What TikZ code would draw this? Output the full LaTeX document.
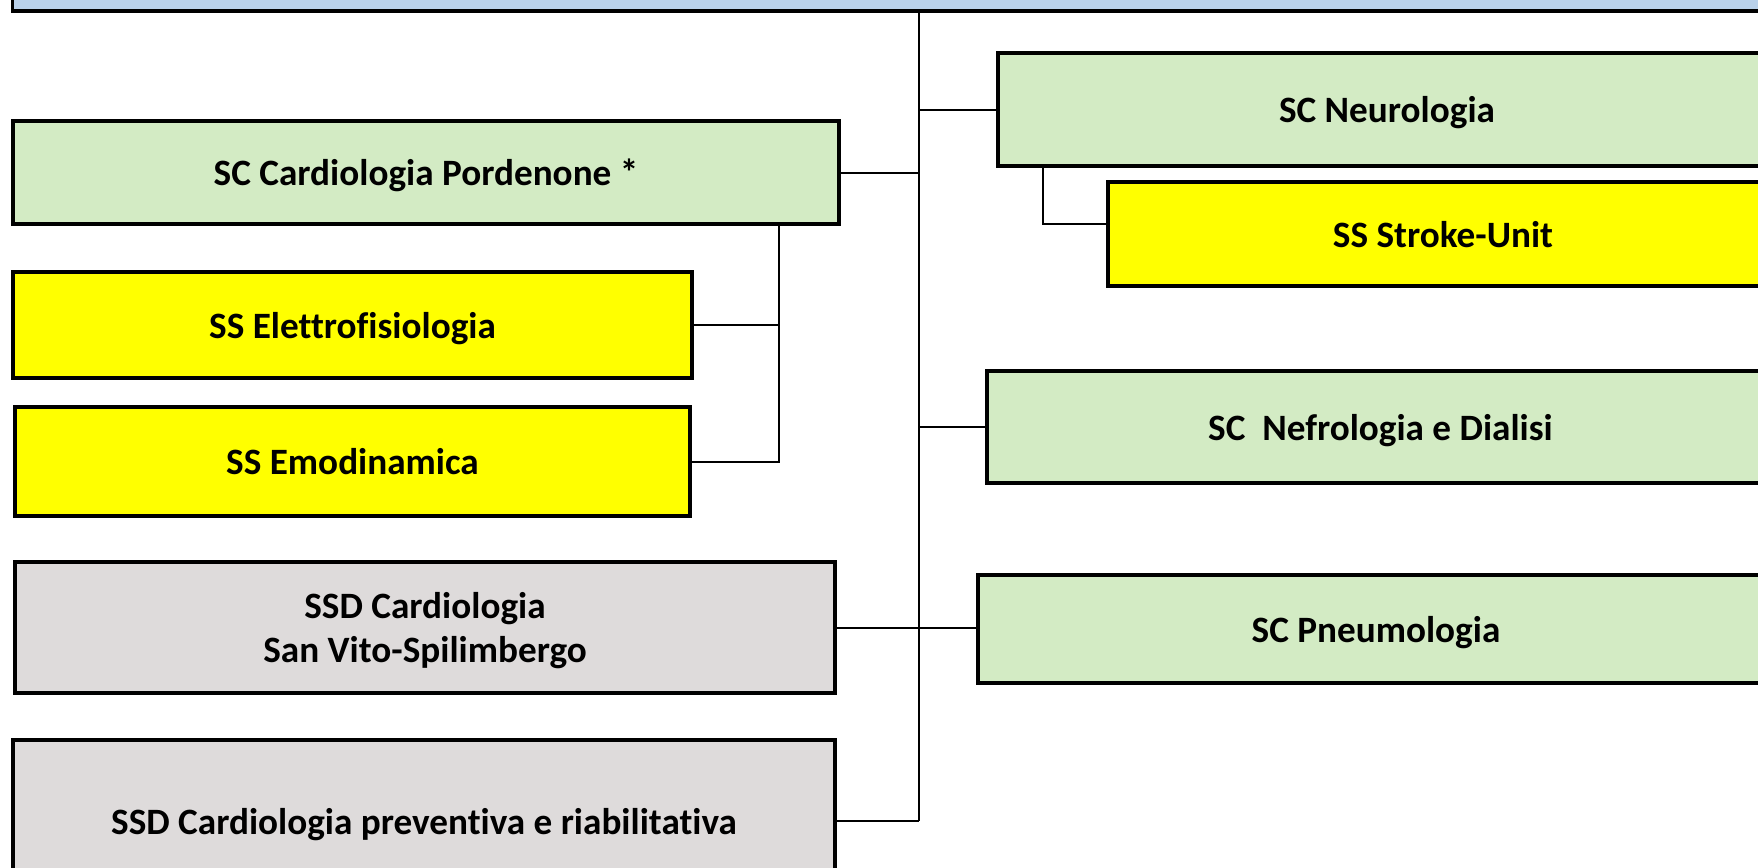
\documentclass[tikz,border=0pt]{standalone}
\usepackage{fontspec}
\setmainfont{Carlito}[Ligatures=NoCommon]
\usepackage{tikz}
\usetikzlibrary{calc,positioning}

\definecolor{scgreen}{RGB}{211,235,196}
\definecolor{ssyellow}{RGB}{255,255,0}
\definecolor{ssdgray}{RGB}{222,219,219}
\definecolor{topblue}{RGB}{185,209,234}

\begin{document}
\begin{tikzpicture}[%
x=0.5pt, y=-0.5pt,
unit/.style={rectangle, draw=black, line width=1.6pt, align=center,
  font=\fontsize{18.6}{22}\selectfont\bfseries, inner sep=0pt, text depth=0pt},
sc/.style={unit, fill=scgreen},
ss/.style={unit, fill=ssyellow},
ssd/.style={unit, fill=ssdgray},
link/.style={line width=1pt}
]
\clip (0,0) rectangle (1758,868);
\useasboundingbox (0,0) rectangle (1758,868);

% top bar
\node[unit, fill=topblue, minimum width=893.5pt, minimum height=35.5pt] (top) at (906,-24.5) {};

% left column
\node[sc, minimum width=413pt, minimum height=51.5pt] (card) at (426,172.5) {SC Cardiologia Pordenone *};
\node[ss, minimum width=339.5pt, minimum height=53pt] (elettro) at (352.5,325) {SS Elettrofisiologia};
\node[ss, minimum width=337.5pt, minimum height=54.5pt] (emo) at (352.5,461.5) {SS Emodinamica};
\node[ssd, minimum width=410pt, minimum height=65.5pt] (sanvito) at (425,627.5) {SSD Cardiologia\\San Vito-Spilimbergo};
\node[ssd, minimum width=411pt, minimum height=81pt] (prev) at (424,821) {SSD Cardiologia preventiva e riabilitativa};

% right column
\node[sc, minimum width=389pt, minimum height=56.5pt] (neuro) at (1387,109.5) {SC Neurologia};
\node[ss, minimum width=335pt, minimum height=52pt] (stroke) at (1443,234) {SS Stroke-Unit};
\node[sc, minimum width=393.5pt, minimum height=56pt] (nefro) at (1380.5,427) {SC\ \ Nefrologia e Dialisi};
\node[sc, minimum width=398pt, minimum height=54pt] (pneumo) at (1376,629) {SC Pneumologia};

% connectors
\coordinate (tr) at (919,0);
\coordinate (cb) at (779,0);
\coordinate (nb) at (1043,0);
\draw[link] (top.south -| tr) -- (prev.east -| tr);
\draw[link] (prev.east) -- (prev.east -| tr);
\draw[link] (card.east) -- (card.east -| tr);
\draw[link] (neuro.west) -- (neuro.west -| tr);
\draw[link] (nefro.west) -- (nefro.west -| tr);
\draw[link] (sanvito.east) -- (sanvito.east -| pneumo.west);
\draw[link] (card.south -| cb) |- (emo.east);
\draw[link] (elettro.east) -- (elettro.east -| cb);
\draw[link] (neuro.south -| nb) |- ([yshift=5pt]stroke.west);
\end{tikzpicture}
\end{document}
